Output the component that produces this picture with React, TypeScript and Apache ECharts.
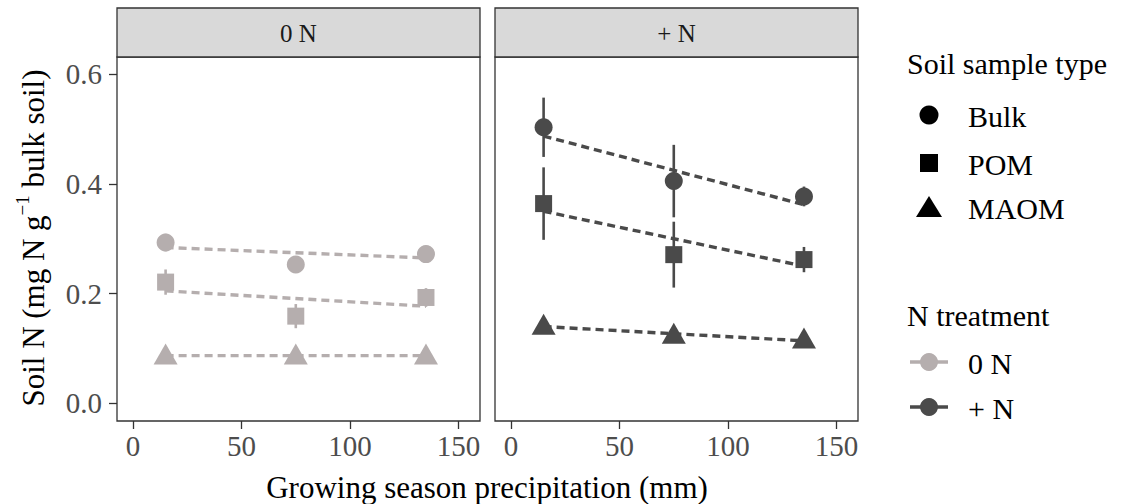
import React, { useEffect, useRef } from "react";
import * as echarts from "echarts";

const precip = [15, 75, 135];
const xTicks = [0, 50, 100, 150];
const yTicks = [0, 0.2, 0.4, 0.6];
const panels = ["0 N", "+ N"];
const sampleTypes = ["Bulk", "POM", "MAOM"];

// 0 N treatment: means and error half-widths
const bulk0 = [0.293, 0.253, 0.272];
const bulk0Err = [0.016, 0.008, 0.008];
const pom0 = [0.221, 0.159, 0.193];
const pom0Err = [0.023, 0.022, 0.017];
const maom0 = [0.09, 0.09, 0.09];
const maom0Err = [0.005, 0.005, 0.005];
// + N treatment
const bulkN = [0.503, 0.405, 0.377];
const bulkNErr = [0.054, 0.066, 0.018];
const pomN = [0.364, 0.271, 0.262];
const pomNErr = [0.066, 0.06, 0.023];
const maomN = [0.144, 0.128, 0.119];
const maomNErr = [0.008, 0.006, 0.005];

// fitted trend lines (values at x = 15 and x = 135)
const fitX = [15, 135];
const bulk0Fit = [0.284, 0.265];
const pom0Fit = [0.205, 0.177];
const maom0Fit = [0.087, 0.087];
const bulkNFit = [0.487, 0.362];
const pomNFit = [0.35, 0.25];
const maomNFit = [0.14, 0.114];

const FONT = "Liberation Serif";
const COL0 = "#b5aeae";
const COLN = "#4a4a4a";

const symbols = ["circle", "rect", "triangle"];
const symSizes: any[] = [18, 17, [24, 21]];

export default function App() {
  const ref = useRef<HTMLDivElement>(null);
  useEffect(() => {
    const chart = echarts.init(ref.current!, null, { renderer: "svg" });
    const gridL = [117, 495];
    const gridW = 363;
    const gridTop = 57;
    const gridH = 364;

    const grids = gridL.map((l) => ({
      left: l,
      top: gridTop,
      width: gridW,
      height: gridH,
      show: true,
      borderColor: "#333333",
      borderWidth: 1.3,
      backgroundColor: "#fff",
      containLabel: false,
    }));

    const labelStyle = {
      fontFamily: FONT,
      fontSize: 29,
      color: "#4d4d4d",
    };

    const xAxes = [0, 1].map((i) => ({
      type: "value",
      gridIndex: i,
      position: "bottom",
      min: -7.4,
      max: 159.9,
      axisLine: { show: false, onZero: false },
      splitLine: { show: false },
      axisTick: { show: true, inside: false, length: 8, lineStyle: { color: "#333", width: 1.3 }, customValues: xTicks },
      axisLabel: {
        ...labelStyle,
        customValues: xTicks,
        margin: 10,
      },
    }));

    const yAxes = [0, 1].map((i) => ({
      type: "value",
      gridIndex: i,
      position: "left",
      min: -0.032,
      max: 0.631,
      axisLine: { show: false, onZero: false },
      splitLine: { show: false },
      axisTick: { show: i === 0, inside: false, length: 8, lineStyle: { color: "#333", width: 1.3 }, customValues: yTicks },
      axisLabel: {
        ...labelStyle,
        show: i === 0,
        customValues: yTicks,
        margin: 15,
        formatter: (v: number) => v.toFixed(1),
      },
    }));

    const groups = [
      {
        color: COL0,
        means: [bulk0, pom0, maom0],
        errs: [bulk0Err, pom0Err, maom0Err],
        fits: [bulk0Fit, pom0Fit, maom0Fit],
      },
      {
        color: COLN,
        means: [bulkN, pomN, maomN],
        errs: [bulkNErr, pomNErr, maomNErr],
        fits: [bulkNFit, pomNFit, maomNFit],
      },
    ];

    const series: any[] = [];
    groups.forEach((g, gi) => {
      g.means.forEach((m, k) => {
        const color = g.color;
        series.push({
          type: "custom",
          name: panels[gi] + " " + sampleTypes[k] + " error",
          xAxisIndex: gi,
          yAxisIndex: gi,
          z: 2,
          data: precip.map((x, i) => [x, m[i] - g.errs[k][i], m[i] + g.errs[k][i]]),
          encode: { x: 0, y: [1, 2] },
          renderItem: (params: any, api: any) => {
            const p1 = api.coord([api.value(0), api.value(1)]);
            const p2 = api.coord([api.value(0), api.value(2)]);
            return {
              type: "line",
              shape: { x1: p1[0], y1: p1[1], x2: p2[0], y2: p2[1] },
              style: { stroke: color, lineWidth: 2.6 },
            };
          },
        });
        series.push({
          type: "line",
          name: panels[gi] + " " + sampleTypes[k] + " fit",
          xAxisIndex: gi,
          yAxisIndex: gi,
          z: 3,
          showSymbol: false,
          symbol: "none",
          data: fitX.map((x, i) => [x, g.fits[k][i]]),
          lineStyle: { color, width: 3.4, type: [8, 5] },
        });
        series.push({
          type: "scatter",
          name: panels[gi] + " " + sampleTypes[k],
          xAxisIndex: gi,
          yAxisIndex: gi,
          z: 4,
          symbol: symbols[k],
          symbolSize: symSizes[k],
          itemStyle: { color, opacity: 1 },
          data: precip.map((x, i) => [x, m[i]]),
        });
      });
    });

    const graphics: any[] = [];
    gridL.forEach((l, i) => {
      graphics.push({
        type: "rect",
        shape: { x: l, y: 8, width: gridW, height: 49 },
        style: { fill: "#d9d9d9", stroke: "#333333", lineWidth: 1.3 },
      });
      graphics.push({
        type: "text",
        x: l + gridW / 2,
        y: 33,
        style: {
          text: panels[i],
          font: `25px "${FONT}"`,
          fill: "#1a1a1a",
          align: "center",
          verticalAlign: "middle",
        },
      });
    });
    graphics.push({
      type: "text",
      x: 487,
      y: 487,
      style: {
        text: "Growing season precipitation (mm)",
        font: `31px "${FONT}"`,
        fill: "#000",
        align: "center",
        verticalAlign: "middle",
      },
    });
    graphics.push({
      type: "text",
      x: 31,
      y: 238,
      rotation: Math.PI / 2,
      style: {
        text: "{a|Soil N (mg N g}{s|−1}{a| bulk soil)}",
        rich: {
          a: { font: `31px "${FONT}"`, fill: "#000", lineHeight: 36, verticalAlign: "bottom" },
          s: { font: `19px "${FONT}"`, fill: "#000", lineHeight: 22, verticalAlign: "top" },
        },
        align: "center",
        verticalAlign: "middle",
      },
    });

    // legend
    const legX = 929;
    const legText = 968;
    graphics.push({
      type: "text",
      x: 907,
      y: 63,
      style: { text: "Soil sample type", font: `30px "${FONT}"`, fill: "#000", verticalAlign: "middle" },
    });
    const legY = [115, 163, 207];
    graphics.push({ type: "circle", shape: { cx: legX, cy: legY[0], r: 9.5 }, style: { fill: "#000" } });
    graphics.push({ type: "rect", shape: { x: legX - 9, y: legY[1] - 9, width: 18, height: 18 }, style: { fill: "#000" } });
    graphics.push({
      type: "polygon",
      shape: { points: [[legX, legY[2] - 11], [legX - 13, legY[2] + 10], [legX + 13, legY[2] + 10]] },
      style: { fill: "#000" },
    });
    sampleTypes.forEach((s, i) => {
      graphics.push({
        type: "text",
        x: legText,
        y: legY[i] + 1,
        style: { text: s, font: `30px "${FONT}"`, fill: "#000", verticalAlign: "middle" },
      });
    });
    graphics.push({
      type: "text",
      x: 907,
      y: 315,
      style: { text: "N treatment", font: `30px "${FONT}"`, fill: "#000", verticalAlign: "middle" },
    });
    const ntY = [362, 407];
    [COL0, COLN].forEach((c, i) => {
      graphics.push({
        type: "line",
        shape: { x1: 910, y1: ntY[i], x2: 948, y2: ntY[i] },
        style: { stroke: c, lineWidth: 3.5 },
      });
      graphics.push({ type: "circle", shape: { cx: legX, cy: ntY[i], r: 9 }, style: { fill: c } });
      graphics.push({
        type: "text",
        x: legText,
        y: ntY[i] + 1,
        style: { text: panels[i], font: `30px "${FONT}"`, fill: "#000", verticalAlign: "middle" },
      });
    });

    chart.setOption({
      animation: false,
      backgroundColor: "#fff",
      textStyle: { fontFamily: FONT },
      grid: grids,
      xAxis: xAxes,
      yAxis: yAxes,
      series,
      graphic: graphics,
    });
    return () => chart.dispose();
  }, []);
  return (
    <div
      ref={ref}
      style={{ position: "fixed", left: 0, top: 0, width: 1126, height: 504 }}
    />
  );
}
